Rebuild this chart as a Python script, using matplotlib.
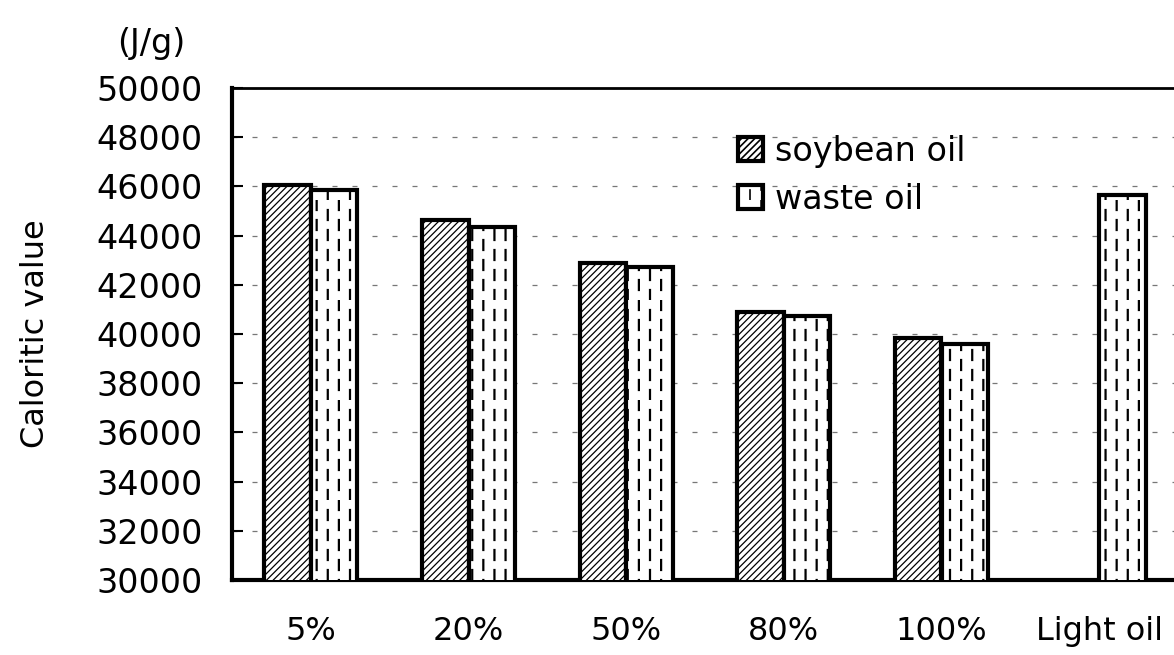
import matplotlib
matplotlib.use("Agg")
import matplotlib.pyplot as plt
import matplotlib.hatch as mhatch
from matplotlib.path import Path
import numpy as np

categories = ["5%", "20%", "50%", "80%", "100%", "Light oil"]
soybean = [46050, 44650, 42880, 40900, 39830, np.nan]
waste = [45850, 44330, 42720, 40740, 39580, 45650]
yticks = list(range(30000, 50001, 2000))


# dashed vertical hatch ("!") like the scanned waste oil bars
class DashedVertical(mhatch.HatchPatternBase):
    cols = 9
    dashes = 5

    def __init__(self, hatch, density):
        self.num_vertices = 0
        if "!" in hatch:
            self.num_vertices = self.cols * (self.dashes + 1) * 2

    def set_vertices_and_codes(self, vertices, codes):
        k = 0
        period = 1.0 / self.dashes
        for c in range(self.cols):
            xpos = (c + 0.5) / self.cols
            off = (c % 2) * period / 2
            for d in range(-1, self.dashes):
                y0 = d * period + off
                y1 = y0 + period * 0.5
                vertices[k] = (xpos, max(y0, 0.0))
                vertices[k + 1] = (xpos, min(max(y1, 0.0), 1.0))
                codes[k] = Path.MOVETO
                codes[k + 1] = Path.LINETO
                k += 2


mhatch._hatch_types.append(DashedVertical)

plt.rcParams["font.family"] = ["DejaVu Sans"]

fig = plt.figure(figsize=(11.74, 6.55), dpi=100)
# axes run past the right edge like the scanned original
ax = fig.add_axes([232 / 1174, 75 / 655, 946 / 1174, 492 / 655])

x = np.arange(len(categories))
w = 0.295
with plt.rc_context({"hatch.linewidth": 0.9}):
    ax.bar(x - w / 2, soybean, w, color="white", edgecolor="black",
           linewidth=3, hatch="/////", label="soybean oil", zorder=3)
with plt.rc_context({"hatch.linewidth": 1.6}):
    ax.bar(x + w / 2, waste, w, color="white", edgecolor="black",
           linewidth=3, hatch="!", label="waste oil", zorder=3)

ax.set_ylim(30000, 50000)
ax.set_xlim(-0.5, len(categories) - 0.5)
ax.set_yticks(yticks)
ax.set_yticklabels([str(v) for v in yticks], fontsize=24)
ax.set_xticks(x)
ax.set_xticklabels(categories, fontsize=23)
ax.tick_params(axis="x", length=0, pad=26)
ax.tick_params(axis="y", direction="in", length=8, width=1.5, pad=21)

ax.grid(axis="y", linestyle=(0, (4, 12)), color="#777777", linewidth=0.9, zorder=0)
for s in ["left", "bottom"]:
    ax.spines[s].set_linewidth(3)
ax.spines["top"].set_linewidth(2)

ax.set_ylabel("Caloritic value", fontsize=23, labelpad=33)
fig.text(151 / 1174, 1 - 43 / 655, "(J/g)", fontsize=24, ha="center", va="center")

with plt.rc_context({"hatch.linewidth": 1.2}):
    ax.legend(loc="upper left", bbox_to_anchor=(0.535, 0.905), frameon=False,
              fontsize=24, handlelength=0.75, handleheight=0.75, handletextpad=0.35,
              labelspacing=0.45, borderaxespad=0, borderpad=0)

fig.savefig("out.png", dpi=100)
